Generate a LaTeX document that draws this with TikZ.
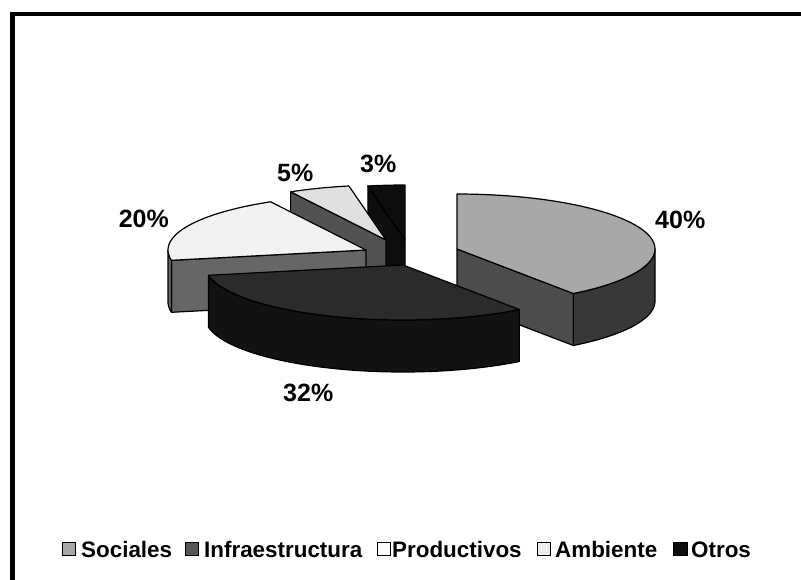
\documentclass[tikz,border=0pt]{standalone}
\usepackage{fontspec}
\setmainfont{Liberation Sans}
\definecolor{socTop}{gray}{0.66}
\definecolor{socSide}{gray}{0.30}
\definecolor{socWall}{gray}{0.22}
\definecolor{infTop}{gray}{0.17}
\definecolor{infWall}{gray}{0.07}
\definecolor{proTop}{gray}{0.95}
\definecolor{proSide}{gray}{0.40}
\definecolor{ambTop}{gray}{0.88}
\definecolor{ambSide}{gray}{0.32}
\definecolor{otrFill}{gray}{0.05}
\tikzset{
  edge/.style={draw=black, line width=1.2pt, line join=round},
  pct/.style={font=\fontsize{25}{30}\selectfont\bfseries, inner sep=0pt},
  leg/.style={font=\fontsize{22.4}{26}\selectfont\bfseries, inner sep=0pt, anchor=base west},
  legbox/.style={draw=black, line width=1pt},
}
\begin{document}
\begin{tikzpicture}[x=1pt,y=-1pt]
\useasboundingbox (0,0) rectangle (801,579);
\fill[white] (0,0) rectangle (801,579);
% frame
\draw[line width=4.5pt] (12.5,590) -- (12.5,14) -- (810,14);

% ---- Otros (apex 405,240; 90..100.8)
\filldraw[edge, fill=otrFill] (405,240) -- ({405+198*cos(100.8)},{240-55*sin(100.8)}) -- ++(0,52) -- (405,292) -- cycle;
\filldraw[edge, fill=otrFill] (405,240) -- plot[domain=90:100.8,samples=10] ({405+198*cos(\x)},{240-55*sin(\x)}) -- cycle;

% ---- Ambiente (apex 386,240; 100.8..118.8)
\filldraw[edge, fill=ambSide] (386,240) -- ({386+198*cos(118.8)},{240-55*sin(118.8)}) -- ++(0,52) -- (386,292) -- cycle;
\filldraw[edge, fill=ambTop] (386,240) -- plot[domain=100.8:118.8,samples=12] ({386+198*cos(\x)},{240-55*sin(\x)}) -- cycle;

% ---- Sociales (apex 457,249; -54..90)
\filldraw[edge, fill=socSide] (457,249) -- ({457+198*cos(-54)},{249-55*sin(-54)}) -- ++(0,52) -- (457,301) -- cycle;
\filldraw[edge, fill=socWall] plot[domain=-54:0,samples=30] ({457+198*cos(\x)},{249-55*sin(\x)}) -- plot[domain=0:-54,samples=30] ({457+198*cos(\x)},{301-55*sin(\x)}) -- cycle;
\filldraw[edge, fill=socTop] (457,249) -- plot[domain=-54:90,samples=60] ({457+198*cos(\x)},{249-55*sin(\x)}) -- cycle;

% ---- Productivos (apex 366,250; 118.8..190.8)
\filldraw[edge, fill=proSide] (366,250) -- ({366+198*cos(190.8)},{250-55*sin(190.8)}) -- ++(0,52) -- (366,302) -- cycle;
\filldraw[edge, fill=proSide] plot[domain=180:190.8,samples=10] ({366+198*cos(\x)},{250-55*sin(\x)}) -- plot[domain=190.8:180,samples=10] ({366+198*cos(\x)},{302-55*sin(\x)}) -- cycle;
\filldraw[edge, fill=proTop] (366,250) -- plot[domain=118.8:190.8,samples=40] ({366+198*cos(\x)},{250-55*sin(\x)}) -- cycle;

% ---- Infraestructura (apex 403,265; 190.8..306)
\filldraw[edge, fill=infWall] plot[domain=190.8:306,samples=50] ({403+198*cos(\x)},{265-55*sin(\x)}) -- plot[domain=306:190.8,samples=50] ({403+198*cos(\x)},{317-55*sin(\x)}) -- cycle;
\filldraw[edge, fill=infTop] (403,265) -- plot[domain=190.8:306,samples=50] ({403+198*cos(\x)},{265-55*sin(\x)}) -- cycle;

% ---- percentage labels
\node[pct, anchor=base west] (l40) at (655,228) {40\%};
\node[pct, anchor=base east] (l20) at (169,227) {20\%};
\node[pct, anchor=base west] (l5) at (277,181) {5\%};
\node[pct, anchor=base west] (l3) at (360,172) {3\%};
\node[pct, anchor=base west] (l32) at (283,401) {32\%};

% ---- legend
\filldraw[legbox, fill=socTop] (62,542) rectangle (75,555);
\node[leg] (lgs) at (81,557) {Sociales};
\filldraw[legbox, fill=infTop!80!white] (185,542) rectangle (198,555);
\node[leg] (lgi) at (204,557) {Infraestructura};
\filldraw[legbox, fill=white] (377,542) rectangle (390,555);
\node[leg] (lgp) at (392,557) {Productivos};
\filldraw[legbox, fill=ambTop!60!white] (537,542) rectangle (550,555);
\node[leg] (lga) at (555,557) {Ambiente};
\filldraw[legbox, fill=otrFill] (673,542) rectangle (687,555);
\node[leg] (lgo) at (691,557) {Otros};
\end{tikzpicture}
\end{document}
